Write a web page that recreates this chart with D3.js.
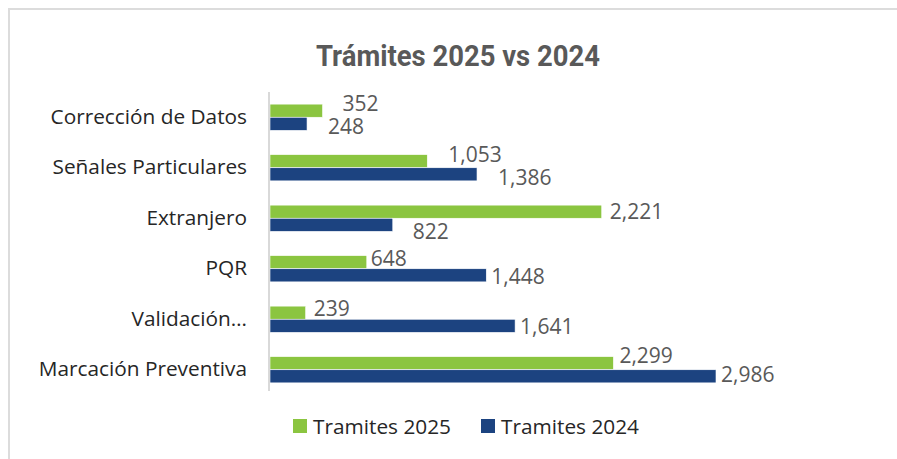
<!DOCTYPE html>
<html>
<head>
<meta charset="utf-8">
<script src="https://cdn.jsdelivr.net/npm/d3@7"></script>
<style>
  body { margin: 0; background: #fff; }
  svg { display: block; }
</style>
</head>
<body>
<div id="chart"></div>
<script>
// datos del grafico
var categorias = ['Corrección de Datos', 'Señales Particulares', 'Extranjero ', 'PQR', 'Validación…', 'Marcación Preventiva'];
var series = ['Tramites 2025', 'Tramites 2024'];
var tramites2025 = [352, 1053, 2221, 648, 239, 2299];
var tramites2024 = [248, 1386, 822, 1448, 1641, 2986];

// ajustes manuales de etiquetas (como en Excel): desplazamiento x / y
var nudgeX2025 = [20, 21, 8, 4, 8, 6];
var nudgeX2024 = [21, 21, 20, 5, 5, 5];
var nudgeY2025 = [-7.5, -6.5, 0, -4, -4, -8];
var nudgeY2024 = [2.5, 3.5, 6.5, 1, 1, -2];

var colores = { 'Tramites 2025': '#8bc540', 'Tramites 2024': '#1c4380' };

var W = 897, H = 459;
var svg = d3.select('#chart').append('svg')
    .attr('width', W).attr('height', H);

// marco
svg.append('rect')
    .attr('x', 9).attr('y', 9)
    .attr('width', W + 20).attr('height', H + 20)
    .attr('fill', 'none').attr('stroke', '#dcdcdc').attr('stroke-width', 2);

svg.append('text')
    .attr('x', 458).attr('y', 66)
    .attr('text-anchor', 'middle')
    .attr('textLength', 284).attr('lengthAdjust', 'spacingAndGlyphs')
    .style('font-family', 'Roboto, sans-serif')
    .style('font-weight', 'bold')
    .style('font-size', '29px')
    .style('fill', '#595959')
    .text('Trámites 2025 vs 2024');

var x = d3.scaleLinear().domain([0, 2986]).range([270, 716]);
var y0 = d3.scaleBand().domain(categorias).range([92, 395]).paddingInner(0.48).paddingOuter(0.24);
var y1 = d3.scaleBand().domain(series).range([0, y0.bandwidth()]);

var filas = categorias.map(function(c, i) {
    return [
        { cat: c, serie: series[0], valor: tramites2025[i], dx: nudgeX2025[i], dy: nudgeY2025[i] },
        { cat: c, serie: series[1], valor: tramites2024[i], dx: nudgeX2024[i], dy: nudgeY2024[i] }
    ];
});

var grupos = svg.append('g').selectAll('g').data(filas).enter()
    .append('g').attr('transform', function(d) { return 'translate(0,' + y0(d[0].cat) + ')'; });

grupos.selectAll('rect').data(function(d) { return d; }).enter()
    .append('rect')
    .attr('x', x(0))
    .attr('y', function(d) { return y1(d.serie); })
    .attr('width', function(d) { return x(d.valor) - x(0); })
    .attr('height', y1.bandwidth())
    .attr('fill', function(d) { return colores[d.serie]; })
    .attr('stroke', '#fff').attr('stroke-width', 0.6);

var fmt = d3.format(',');
grupos.selectAll('text').data(function(d) { return d; }).enter()
    .append('text')
    .attr('x', function(d) { return x(d.valor) + d.dx; })
    .attr('y', function(d) { return y1(d.serie) + y1.bandwidth() / 2 + d.dy; })
    .attr('dy', '0.36em')
    .style('font-family', '"Open Sans", sans-serif')
    .style('font-size', '21px')
    .style('fill', '#595959')
    .text(function(d) { return fmt(d.valor); });

// eje vertical
var ejeY = svg.append('g')
    .attr('transform', 'translate(' + (x(0) - 1) + ',0)')
    .call(d3.axisLeft(y0).tickSize(0).tickPadding(22));
ejeY.select('.domain').attr('d', 'M0,92V391').attr('stroke', '#d9d9d9').attr('stroke-width', 2);
ejeY.selectAll('text')
    .style('font-family', '"Open Sans", sans-serif')
    .style('font-size', '20.8px')
    .style('fill', '#262626');

// leyenda
var leyenda = svg.append('g').selectAll('g').data(series).enter()
    .append('g').attr('transform', function(d, i) { return 'translate(' + (293 + i * 188) + ',419)'; });
leyenda.append('rect').attr('width', 14).attr('height', 14)
    .attr('fill', function(d) { return colores[d]; });
leyenda.append('text')
    .attr('x', 20).attr('y', 7).attr('dy', '0.36em')
    .style('font-family', '"Open Sans", sans-serif')
    .style('font-size', '20.8px')
    .style('fill', '#262626')
    .text(function(d) { return d; });
</script>
</body>
</html>
